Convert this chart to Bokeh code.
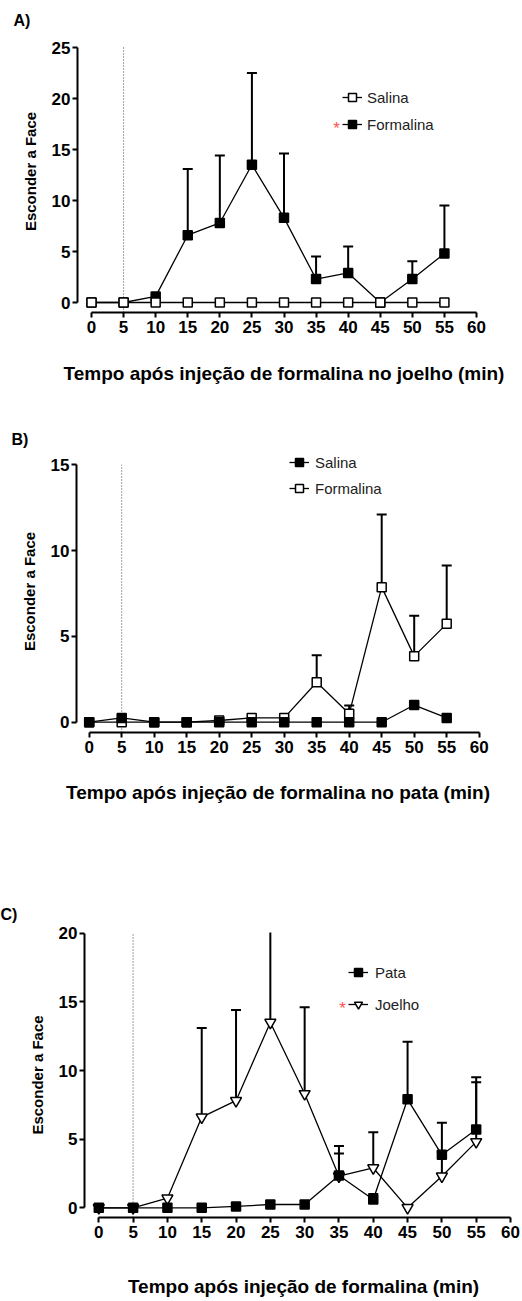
from bokeh.plotting import figure
from bokeh.layouts import column, row
from bokeh.models import Legend, LegendItem, Label, FixedTicker
from bokeh.embed import file_html
from bokeh.resources import INLINE

# ---------------- data ----------------
tempo = [0, 5, 10, 15, 20, 25, 30, 35, 40, 45, 50, 55]
x_ticks = [0, 5, 10, 15, 20, 25, 30, 35, 40, 45, 50, 55, 60]

# A) joelho
a_salina = [0, 0, 0, 0, 0, 0, 0, 0, 0, 0, 0, 0]
a_salina_sem = [0, 0, 0, 0, 0, 0, 0, 0, 0, 0, 0, 0]
a_formalina = [0, 0, 0.6, 6.6, 7.8, 13.5, 8.3, 2.3, 2.9, 0, 2.3, 4.8]
a_formalina_sem = [0, 0, 0, 6.5, 6.6, 9.0, 6.3, 2.2, 2.6, 0, 1.75, 4.7]
a_yticks = [0, 5, 10, 15, 20, 25]

# B) pata
b_salina = [0, 0.25, 0, 0, 0, 0, 0, 0, 0, 0, 1.0, 0.25]
b_salina_sem = [0, 0, 0, 0, 0, 0, 0, 0, 0, 0, 0, 0]
b_formalina = [0, 0, 0, 0, 0.1, 0.25, 0.25, 2.33, 0.49, 7.87, 3.85, 5.73]
b_formalina_sem = [0, 0, 0, 0, 0, 0, 0, 1.57, 0.48, 4.23, 2.35, 3.4]
b_yticks = [0, 5, 10, 15]

# C) comparação
c_pata = [0, 0, 0, 0, 0.1, 0.24, 0.24, 2.35, 0.6, 7.9, 3.86, 5.7]
c_pata_sem = [0, 0, 0, 0, 0, 0, 0, 1.6, 0.4, 4.2, 2.33, 3.45]
c_joelho = [0, 0, 0.7, 6.6, 7.8, 13.5, 8.3, 2.3, 2.9, 0, 2.3, 4.8]
c_joelho_sem = [0, 0, 0, 6.5, 6.6, 9.0, 6.3, 2.2, 2.6, 0, 1.75, 4.7]
c_yticks = [0, 5, 10, 15, 20]

injection_time = 5

FONT = "Liberation Sans"


def make_panel(g, ymax, yticks, series, legend_order, xlabel, letter, star_row=None):
    # frame placement (page pixels, page starts at 0,0)
    mbl = round(g["L"])
    mbr = round(g["W"] - g["R"])
    mbt = round(g["T"] - g["top"])
    mbb = round(g["top"] + g["H"] - g["B"])
    fl = mbl
    fr = g["W"] - mbr
    ft = g["top"] + mbt
    fb = g["top"] + g["H"] - mbb
    sx = (g["x60"] - g["x0"]) / 60.0
    sy = (g["y0"] - g["ytop"]) / float(ymax)
    x_start = (fl - g["x0"]) / sx
    x_end = (fr - g["x0"]) / sx
    y_start = (g["y0"] - fb) / sy
    y_end = (g["y0"] - ft) / sy

    def px2x(px):
        return (px - g["x0"]) / sx

    def py2y(py):
        return (g["y0"] - py) / sy

    p = figure(width=g["W"], height=g["H"], x_range=(x_start, x_end), y_range=(y_start, y_end),
               output_backend="svg", toolbar_location=None,
               min_border_left=mbl, min_border_right=mbr, min_border_top=mbt, min_border_bottom=mbb)
    p.outline_line_color = None
    p.xgrid.visible = False
    p.ygrid.visible = False
    p.background_fill_color = "white"
    p.border_fill_color = "white"

    # panel letter as the figure title
    p.title.text = letter[0]
    p.title.align = "left"
    p.title.offset = letter[1] - fl
    p.title.standoff = letter[2]
    p.title.text_font = FONT
    p.title.text_font_style = "bold"
    p.title.text_font_size = "16px"
    p.title.text_color = "black"

    for ax in (p.xaxis[0], p.yaxis[0]):
        ax.axis_line_width = 2
        ax.major_tick_line_width = 2
        ax.major_tick_out = 5
        ax.major_tick_in = 0
        ax.minor_tick_line_color = None
        ax.major_label_text_font = FONT
        ax.major_label_text_font_style = "bold"
        ax.major_label_text_font_size = "17px"
        ax.major_label_text_color = "black"
        ax.axis_label_text_font = FONT
        ax.axis_label_text_font_style = "bold"
        ax.axis_label_text_color = "black"
        ax.axis_line_color = "black"
        ax.major_tick_line_color = "black"

    p.xaxis.ticker = FixedTicker(ticks=x_ticks)
    p.xaxis.bounds = (0, 60)
    p.xaxis.major_label_standoff = 3
    p.xaxis.axis_label = xlabel
    p.xaxis.axis_label_text_font_size = "19px"
    p.xaxis.axis_label_standoff = g["xlab_standoff"]

    p.yaxis.ticker = FixedTicker(ticks=yticks)
    p.yaxis.bounds = (0, ymax)
    p.yaxis.major_label_standoff = 2
    p.yaxis.axis_label = "Esconder a Face"
    p.yaxis.axis_label_text_font_size = "15px"
    p.yaxis.axis_label_standoff = 10

    # injection reference line
    p.segment(x0=[injection_time], y0=[y_start], x1=[injection_time], y1=[ymax],
              line_color="#444444", line_width=1, line_dash="1 2")

    renderers = {}
    for s in series:
        ln = p.line(tempo, s["y"], line_color="black", line_width=1.3)
        ex = [t for t, e in zip(tempo, s["sem"]) if e > 0]
        ey0 = [v for v, e in zip(s["y"], s["sem"]) if e > 0]
        ey1 = [v + e for v, e in zip(s["y"], s["sem"]) if e > 0]
        if ex:
            p.segment(x0=ex, y0=ey0, x1=ex, y1=ey1, line_color="black", line_width=2)
            p.scatter(ex, ey1, marker="dash", size=10, line_color="black", line_width=2)
        sc = p.scatter(tempo, s["y"], marker=s["marker"], size=s["size"],
                       fill_color=s["fill"], line_color="black", line_width=1.5)
        renderers[s["name"]] = (ln, sc)

    lg = g["legend"]
    gw, gh = 20, 22
    items = [LegendItem(label=n, renderers=list(renderers[n])) for n in legend_order]
    legend = Legend(items=items, padding=0, margin=0, spacing=round(lg["gap"] - gh),
                    glyph_width=gw, glyph_height=gh, label_height=gh,
                    label_standoff=round(lg["text_x"] - (lg["cx"] + gw / 2)),
                    label_text_font=FONT, label_text_font_size="15px", label_text_color="#222222",
                    border_line_color=None, background_fill_alpha=0)
    leg_left = lg["cx"] - gw / 2
    leg_bottom = lg["cy"] + lg["gap"] * (len(items) - 1) + gh / 2
    legend.location = (round(leg_left - fl), round(fb - leg_bottom))
    p.add_layout(legend)

    if star_row is not None:
        p.add_layout(Label(x=px2x(star_row[0]), y=py2y(star_row[1]), text="*",
                           text_color="#ff5050", text_font=FONT, text_font_size="17px",
                           text_align="center", text_baseline="middle"))
    return p


geom_a = dict(top=0, H=392, W=506, L=77, R=490, T=30, B=312, x0=91, x60=476, y0=302, ytop=47,
              xlab_standoff=27, legend=dict(cx=352, cy=97, gap=27, text_x=367))
geom_b = dict(top=392, H=420, W=506, L=76, R=479, T=450, B=732, x0=88.7, x60=478.7, y0=721.7, ytop=464.3,
              xlab_standoff=26, legend=dict(cx=299, cy=462.7, gap=25.6, text_x=315))
geom_c = dict(top=812, H=489, W=522, L=84, R=522, T=932, B=1217, x0=98.3, x60=510, y0=1207.3, ytop=932.7,
              xlab_standoff=35, legend=dict(cx=358, cy=972.3, gap=31.7, text_x=375))

pa = make_panel(
    geom_a, 25, a_yticks,
    [dict(name="Formalina", y=a_formalina, sem=a_formalina_sem, marker="square", size=9, fill="black"),
     dict(name="Salina", y=a_salina, sem=a_salina_sem, marker="square", size=9, fill="white")],
    ["Salina", "Formalina"],
    "Tempo após injeção de formalina no joelho (min)", ("A)", 13, 4), star_row=(336, 128))

pb = make_panel(
    geom_b, 15, b_yticks,
    [dict(name="Formalina", y=b_formalina, sem=b_formalina_sem, marker="square", size=9, fill="white"),
     dict(name="Salina", y=b_salina, sem=b_salina_sem, marker="square", size=9, fill="black")],
    ["Salina", "Formalina"],
    "Tempo após injeção de formalina no pata (min)", ("B)", 11, 6))

pc = make_panel(
    geom_c, 20, c_yticks,
    [dict(name="Joelho", y=c_joelho, sem=c_joelho_sem, marker="inverted_triangle", size=11, fill="white"),
     dict(name="Pata", y=c_pata, sem=c_pata_sem, marker="square", size=9, fill="black")],
    ["Pata", "Joelho"],
    "Tempo após injeção de formalina (min)", ("C)", 0, 19), star_row=(342, 1008))

layout = column(row(pa), row(pb), row(pc), spacing=0)
open("out.html", "w").write(file_html(layout, INLINE))
